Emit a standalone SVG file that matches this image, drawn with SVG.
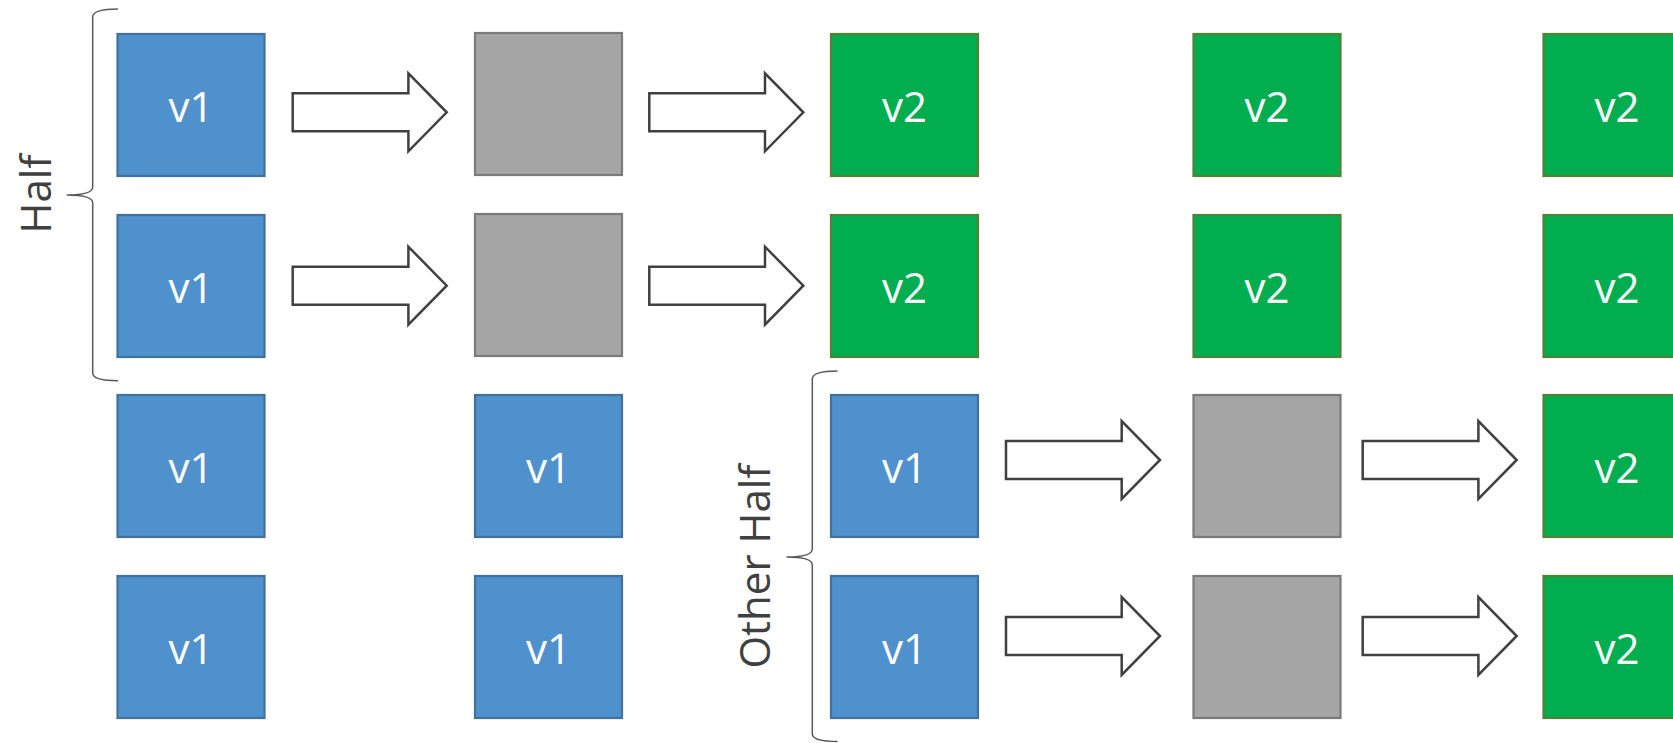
<svg xmlns="http://www.w3.org/2000/svg" xmlns:xlink="http://www.w3.org/1999/xlink" width="1673" height="743" viewBox="0 0 1673 743">
<style>
.b{stroke-width:2.2}
.blue{fill:#4f91cd;stroke:#41719c}
.gray{fill:#a5a5a5;stroke:#7a7a7a}
.green{fill:#00ad4f;stroke:#548235}
.t{font-family:"Open Sans","Liberation Sans",sans-serif;font-size:42px;fill:#ffffff;text-anchor:middle}
.lbl{font-family:"Open Sans","Liberation Sans",sans-serif;font-size:42px;fill:#404040;text-anchor:middle}
.arrow{fill:#ffffff;stroke:#404040;stroke-width:2.5;stroke-linejoin:miter}
.brace{fill:none;stroke:#595959;stroke-width:1.5}
</style>
<defs>
<path id="arr" d="M0,-19 L115.7,-19 L115.7,-39 L154,0 L115.7,39 L115.7,19 L0,19 Z"/>
</defs>
<rect width="1673" height="743" fill="#ffffff"/>

<g id="r1c1"><rect class="b blue" x="117.5" y="34" width="147" height="142"/><text class="t" x="191" y="122.3">v1</text></g>
<g id="r1c2"><rect class="b gray" x="475" y="33" width="147" height="142"/></g>
<g id="r1c3"><rect class="b green" x="831" y="34" width="147" height="142"/><text class="t" x="904.5" y="122.3">v2</text></g>
<g id="r1c4"><rect class="b green" x="1193.5" y="34" width="147" height="142"/><text class="t" x="1267" y="122.3">v2</text></g>
<g id="r1c5"><rect class="b green" x="1543.5" y="34" width="147" height="142"/><text class="t" x="1617" y="122.3">v2</text></g>

<g id="r2c1"><rect class="b blue" x="117.5" y="215" width="147" height="142"/><text class="t" x="191" y="303.3">v1</text></g>
<g id="r2c2"><rect class="b gray" x="475" y="214" width="147" height="142"/></g>
<g id="r2c3"><rect class="b green" x="831" y="215" width="147" height="142"/><text class="t" x="904.5" y="303.3">v2</text></g>
<g id="r2c4"><rect class="b green" x="1193.5" y="215" width="147" height="142"/><text class="t" x="1267" y="303.3">v2</text></g>
<g id="r2c5"><rect class="b green" x="1543.5" y="215" width="147" height="142"/><text class="t" x="1617" y="303.3">v2</text></g>

<g id="r3c1"><rect class="b blue" x="117.5" y="395" width="147" height="142"/><text class="t" x="191" y="483.3">v1</text></g>
<g id="r3c2"><rect class="b blue" x="475" y="395" width="147" height="142"/><text class="t" x="548.5" y="483.3">v1</text></g>
<g id="r3c3"><rect class="b blue" x="831" y="395" width="147" height="142"/><text class="t" x="904.5" y="483.3">v1</text></g>
<g id="r3c4"><rect class="b gray" x="1193.5" y="395" width="147" height="142"/></g>
<g id="r3c5"><rect class="b green" x="1543.5" y="395" width="147" height="142"/><text class="t" x="1617" y="483.3">v2</text></g>

<g id="r4c1"><rect class="b blue" x="117.5" y="576" width="147" height="142"/><text class="t" x="191" y="664.3">v1</text></g>
<g id="r4c2"><rect class="b blue" x="475" y="576" width="147" height="142"/><text class="t" x="548.5" y="664.3">v1</text></g>
<g id="r4c3"><rect class="b blue" x="831" y="576" width="147" height="142"/><text class="t" x="904.5" y="664.3">v1</text></g>
<g id="r4c4"><rect class="b gray" x="1193.5" y="576" width="147" height="142"/></g>
<g id="r4c5"><rect class="b green" x="1543.5" y="576" width="147" height="142"/><text class="t" x="1617" y="664.3">v2</text></g>

<g id="connectors">
<use xlink:href="#arr" class="arrow" transform="translate(292.7,112.3)"/>
<use xlink:href="#arr" class="arrow" transform="translate(649.3,112.3)"/>
<use xlink:href="#arr" class="arrow" transform="translate(292.7,285.7)"/>
<use xlink:href="#arr" class="arrow" transform="translate(649.3,285.7)"/>
<use xlink:href="#arr" class="arrow" transform="translate(1006,460)"/>
<use xlink:href="#arr" class="arrow" transform="translate(1362.7,460)"/>
<use xlink:href="#arr" class="arrow" transform="translate(1006,636)"/>
<use xlink:href="#arr" class="arrow" transform="translate(1362.7,636)"/>
</g>

<g id="brace-half">
<path class="brace" d="M118,9 C104,9 92.7,11 92.7,17 L92.7,187 C92.7,193 80,195 66.7,195 C80,195 92.7,197 92.7,203 L92.7,373 C92.7,379 104,380.7 118,380.7"/>
<text class="lbl" transform="translate(51,194) rotate(-90)">Half</text>
</g>
<g id="brace-other-half">
<path class="brace" d="M837.5,371 C823,371 812.3,373 812.3,379 L812.3,549 C812.3,555 800,557 786.5,557 C800,557 812.3,559 812.3,565 L812.3,734 C812.3,740 823,741.5 837.5,741.5"/>
<text class="lbl" transform="translate(770,566.5) rotate(-90)">Other Half</text>
</g>
</svg>
